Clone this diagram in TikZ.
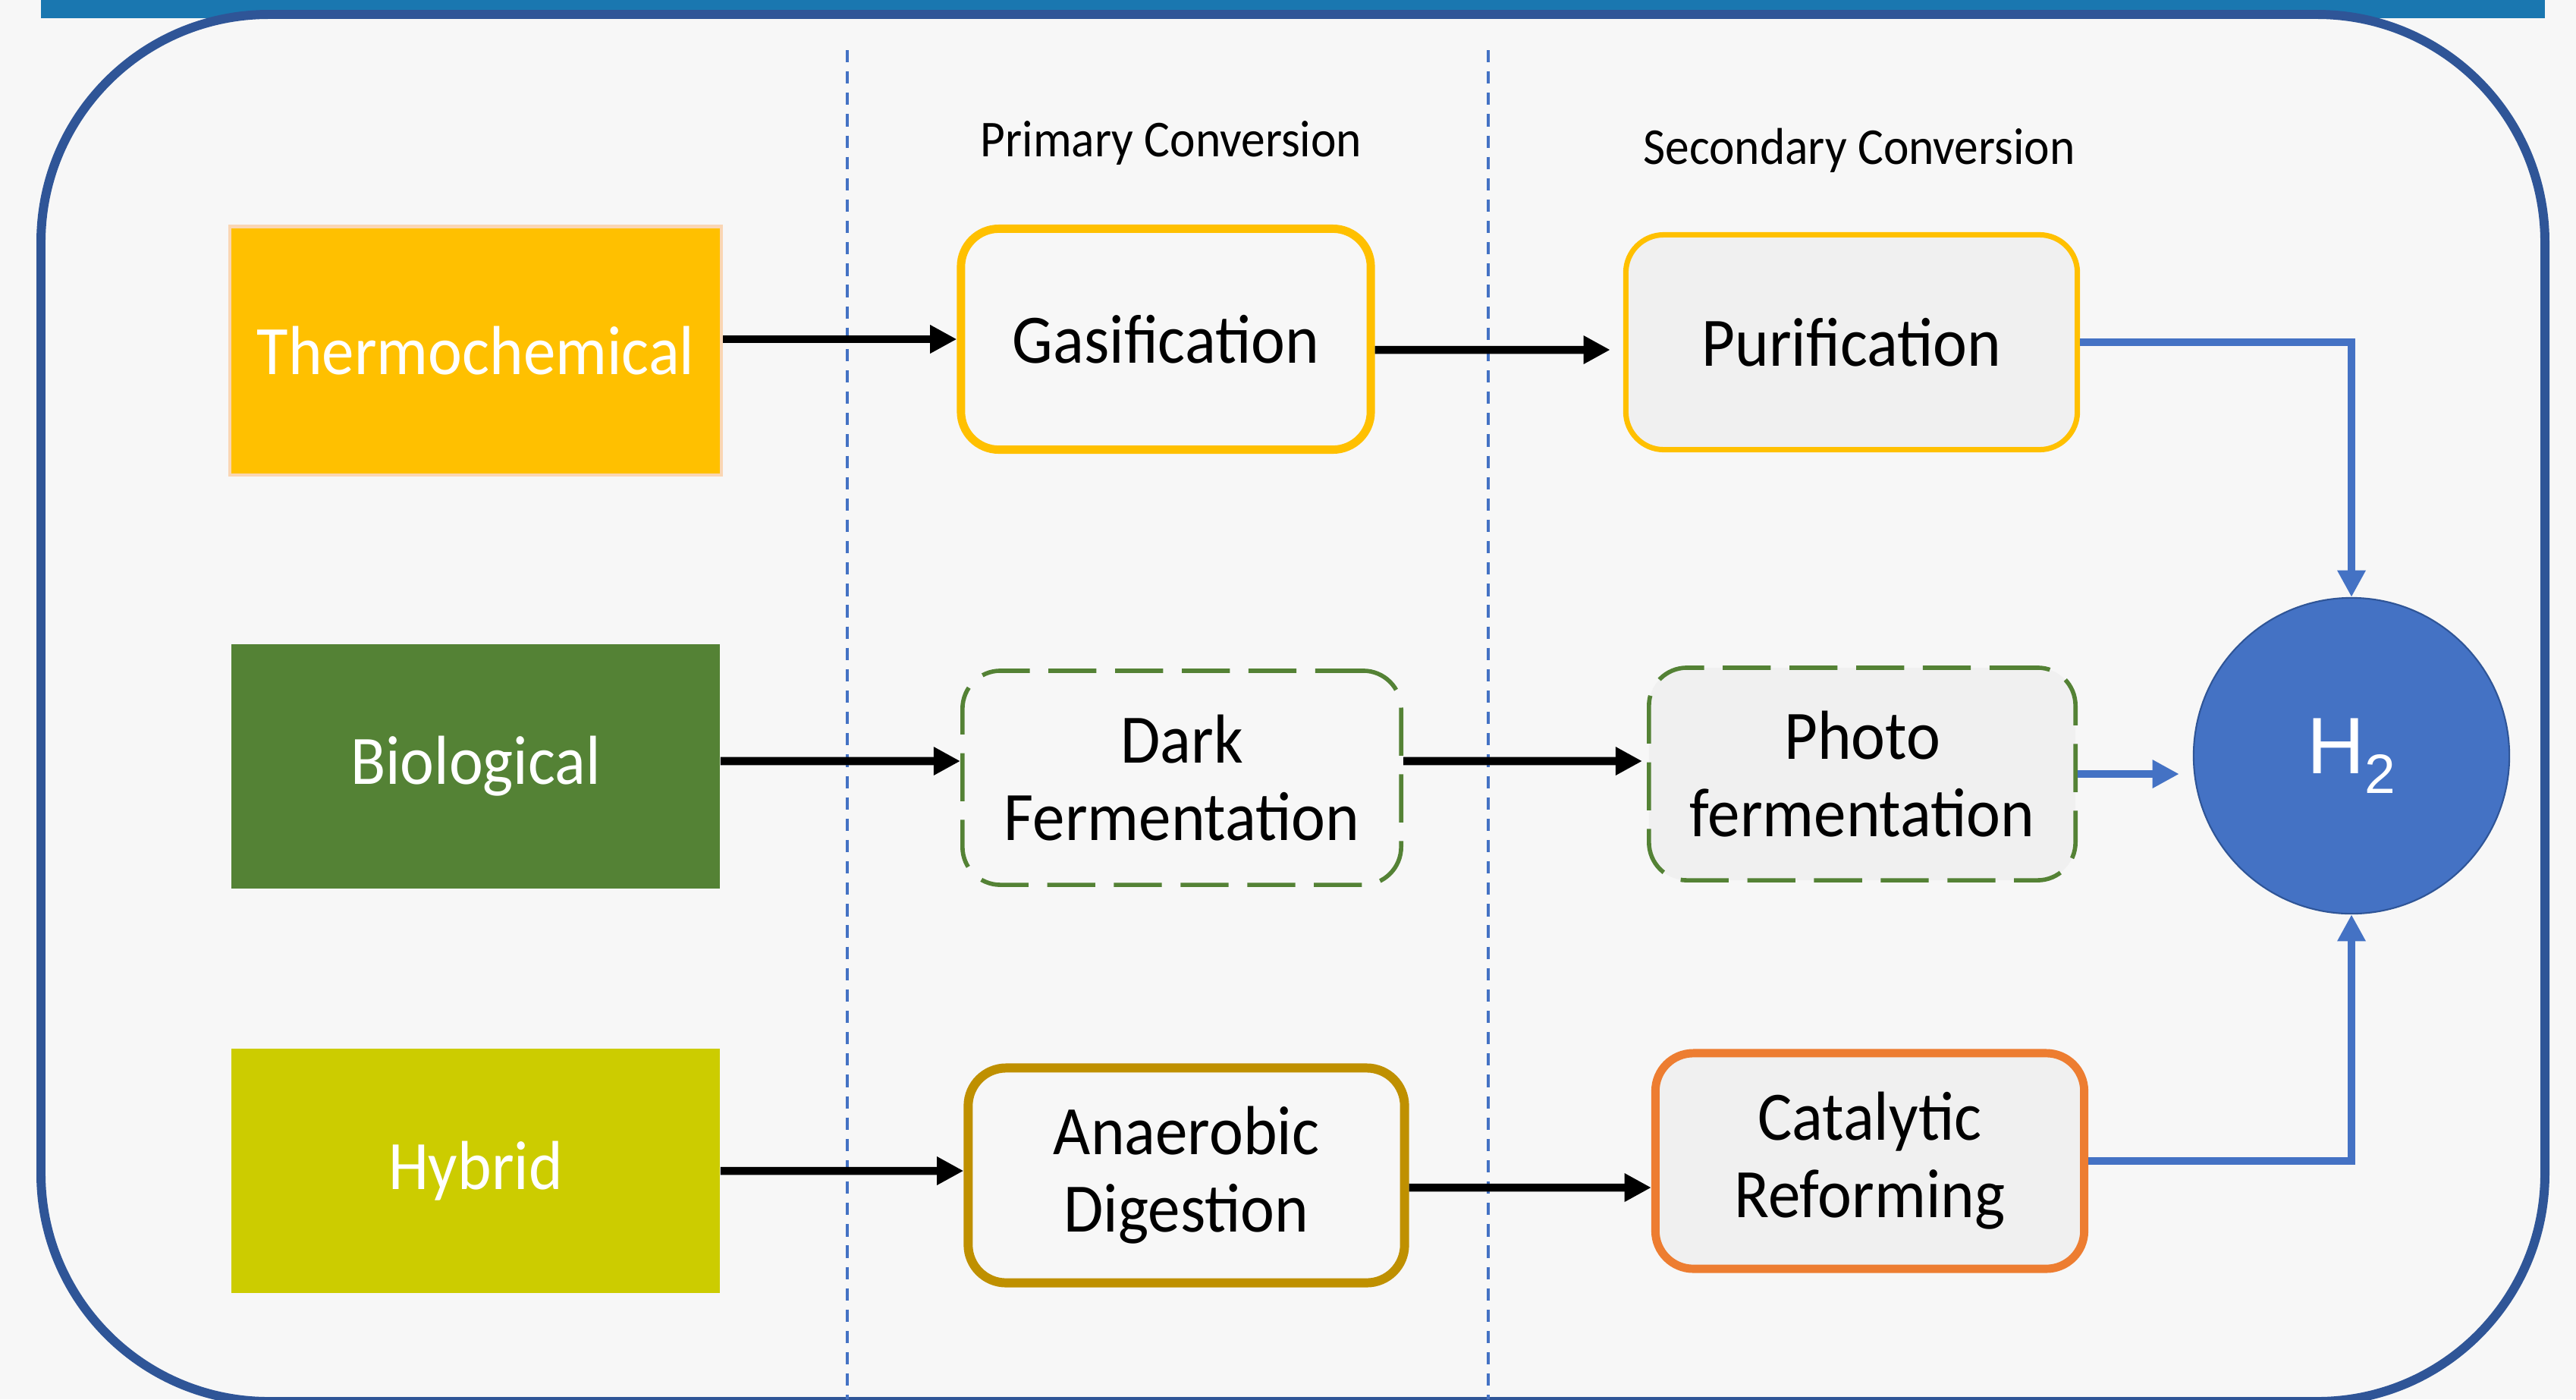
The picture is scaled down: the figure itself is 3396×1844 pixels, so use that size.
\documentclass[tikz,border=0pt]{standalone}
\usepackage{fontspec}
\setmainfont{Carlito}[FakeStretch=0.93]
\newfontfamily\hfont{Liberation Sans}
\usepackage{tikz}
\usetikzlibrary{positioning,arrows.meta,calc}
\usepackage{xcolor}

\definecolor{bgGray}{RGB}{247,247,247}
\definecolor{boxGray}{RGB}{240,240,240}
\definecolor{frameBlue}{RGB}{47,85,151}
\definecolor{bandBlue}{RGB}{26,119,176}
\definecolor{lineBlue}{RGB}{68,114,196}
\definecolor{gold}{RGB}{255,192,0}
\definecolor{leafGreen}{RGB}{84,130,53}
\definecolor{limeYellow}{RGB}{204,204,0}
\definecolor{darkGold}{RGB}{191,144,0}
\definecolor{orangeRed}{RGB}{237,125,49}
\definecolor{glowOrange}{RGB}{250,214,180}

\begin{document}
\begin{tikzpicture}[x=0.01cm, y=-0.01cm,
    source/.style={rectangle, inner sep=0pt, minimum width=6.44cm, minimum height=3.22cm, text=white, font=\fontsize{26}{29}\selectfont},
    stage/.style={rectangle, rounded corners=0.5cm, inner sep=0pt, align=center, font=\fontsize{26}{29}\selectfont},
    heading/.style={anchor=base, inner sep=0pt, font=\fontsize{19.4}{22}\selectfont},
    flow/.style={-{Triangle[length=10pt, width=10pt]}, line width=3pt, black},
    feed/.style={-{Triangle[length=10pt, width=10pt]}, line width=3pt, lineBlue},
    divider/.style={lineBlue, line width=0.9pt, dash pattern=on 4.6pt off 3.4pt}]

    % Canvas and frame
    \useasboundingbox (0,0) rectangle (3396,1844);
    \fill[bgGray] (0,0) rectangle (3396,1844);
    \fill[bandBlue] (54,0) rectangle (3355,24);
    \begin{scope}
        \clip (0,0) rectangle (3396,1844);
        \draw[frameBlue, line width=3.4pt, rounded corners=3cm] (54,19) rectangle (3355,1847);
    \end{scope}

    % Column dividers
    \draw[divider] (1117,66) -- (1117,1844);
    \draw[divider] (1962,66) -- (1962,1844);

    % Column headings
    \node[heading] (primary) at (1544,206) {Primary Conversion};
    \node[heading] (secondary) at (2451,216) {Secondary Conversion};

    % Routes
    \node[source, fill=gold, draw=glowOrange, line width=1.2pt, minimum width=6.48cm, minimum height=3.27cm] (thermo) at (627,462) {Thermochemical};
    \node[source, fill=leafGreen] (bio) at (627,1010) {Biological};
    \node[source, fill=limeYellow] (hyb) at (627,1543) {Hybrid};

    % Primary conversion
    \node[stage, draw=gold, fill=bgGray, line width=3.1pt, minimum width=5.40cm, minimum height=2.91cm] (gasif) at (1537,447) {Gasification};
    \node[stage, draw=leafGreen, fill=bgGray, line width=1.6pt, dash pattern=on 18pt off 7pt, minimum width=5.78cm, minimum height=2.82cm] (darkf) at (1558,1025) {Dark\\Fermentation};
    \node[stage, draw=darkGold, fill=bgGray, line width=3.4pt, minimum width=5.75cm, minimum height=2.83cm] (anaer) at (1564,1549) {Anaerobic\\Digestion};

    % Secondary conversion
    \node[stage, draw=gold, fill=boxGray, line width=2pt, minimum width=5.95cm, minimum height=2.83cm] (purif) at (2441,451) {Purification};
    \node[stage, draw=leafGreen, fill=boxGray, line width=1.6pt, dash pattern=on 18pt off 7pt, minimum width=5.62cm, minimum height=2.80cm] (photof) at (2455,1020) {Photo\\fermentation};
    \node[stage, draw=orangeRed, fill=boxGray, line width=3.1pt, minimum width=5.65cm, minimum height=2.84cm] (catref) at (2465,1530) {Catalytic\\Reforming};

    % Product
    \node[circle, fill=lineBlue, draw=frameBlue, line width=0.6pt, minimum size=4.16cm, inner sep=0pt, text=white, font=\hfont\fontsize{30}{30}\selectfont] (hydrogen) at (3100,996) {H\raisebox{-0.25em}{\fontsize{20.8}{21}\selectfont 2}};

    % Route to primary
    \draw[flow] (thermo.east |- gasif.west) -- (gasif.west);
    \draw[flow] ([yshift=0.07cm]bio.east) -- ([yshift=0.22cm]darkf.west);
    \draw[flow] (hyb.east) -- ([yshift=0.06cm]anaer.west);

    % Primary to secondary
    \draw[flow, shorten >=0.17cm] ([yshift=-0.14cm]gasif.east) -- ([yshift=-0.10cm]purif.west);
    \draw[flow, shorten >=0.06cm] ([yshift=0.22cm]darkf.east) -- ([yshift=0.17cm]photof.west);
    \draw[flow] ([yshift=-0.16cm]anaer.east) -- ([yshift=-0.35cm]catref.west);

    % Secondary to hydrogen
    \draw[feed] (purif.east) -| (hydrogen.north);
    \draw[feed, shorten >=0.18cm] (photof.east) -- (photof.east -| hydrogen.west);
    \draw[feed] (catref.east) -| (hydrogen.south);
\end{tikzpicture}
\end{document}
